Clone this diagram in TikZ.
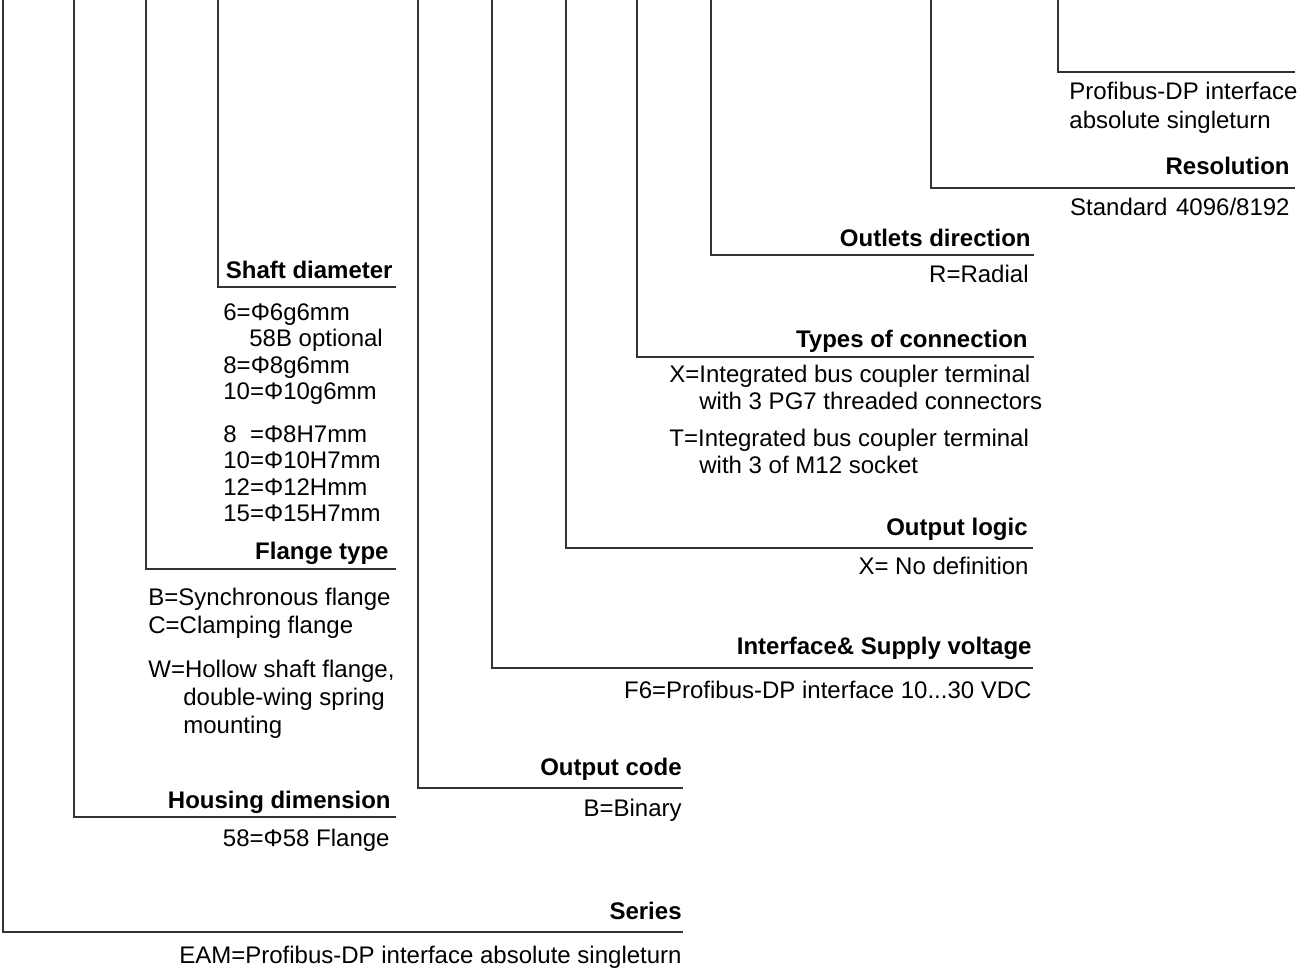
\documentclass[tikz,border=0pt]{standalone}
\usepackage{fontspec}
\setmainfont{Liberation Sans}
\usepackage{tikz}
\usetikzlibrary{positioning}
\tikzset{
  bar/.style={draw=black!80,line width=1pt},
  head/.style={font=\fontsize{12}{13.2}\selectfont\bfseries,inner sep=0pt,text depth=0pt},
  desc/.style={font=\fontsize{12}{13.2}\selectfont,inner sep=0pt,align=left}
}

\begin{document}
\begin{tikzpicture}[x=0.5pt,y=-0.5pt]
\useasboundingbox (0,0) rectangle (1306,974);
% bar ends
\coordinate (ser-t) at (3,0);    \coordinate (ser-e) at (683,932);
\coordinate (hou-t) at (74,0);   \coordinate (hou-e) at (396,817);
\coordinate (fla-t) at (146,0);  \coordinate (fla-e) at (396,569);
\coordinate (sha-t) at (218,0);  \coordinate (sha-e) at (396,287);
\coordinate (cod-t) at (418,0);  \coordinate (cod-e) at (683,788);
\coordinate (int-t) at (492,0);  \coordinate (int-e) at (1033,668);
\coordinate (log-t) at (566,0);  \coordinate (log-e) at (1033,548);
\coordinate (con-t) at (637,0);  \coordinate (con-e) at (1034,357);
\coordinate (dir-t) at (711,0);  \coordinate (dir-e) at (1034,255);
\coordinate (res-t) at (931,0);  \coordinate (res-e) at (1295,188);
\coordinate (pro-t) at (1058,0); \coordinate (pro-e) at (1295,72);
\draw[bar] (ser-t) |- (ser-e);
\draw[bar] (hou-t) |- (hou-e);
\draw[bar] (fla-t) |- (fla-e);
\draw[bar] (sha-t) |- (sha-e);
\draw[bar] (cod-t) |- (cod-e);
\draw[bar] (int-t) |- (int-e);
\draw[bar] (log-t) |- (log-e);
\draw[bar] (con-t) |- (con-e);
\draw[bar] (dir-t) |- (dir-e);
\draw[bar] (res-t) |- (res-e);
\draw[bar] (pro-t) |- (pro-e);
% headings
\node[head, above left=6pt and 0.5pt of ser-e] (ser-h) {Series};
\node[head, above left=4pt and 2.5pt of hou-e] (hou-h) {Housing dimension};
\node[head, above left=4.5pt and 3.5pt of fla-e] (fla-h) {Flange type};
\node[head, above left=4pt and 1.5pt of sha-e] (sha-h) {Shaft diameter};
\node[head, above left=6pt and 0.5pt of cod-e] (cod-h) {Output code};
\node[head, above left=6.5pt and 0.5pt of int-e] (int-h) {Interface\& Supply voltage};
\node[head, above left=6pt and 2.5pt of log-e] (log-h) {Output logic};
\node[head, above left=4.5pt and 3pt of con-e] (con-h) {Types of connection};
\node[head, above left=4pt and 1.5pt of dir-e] (dir-h) {Outlets direction};
\node[head, above left=6.5pt and 2.5pt of res-e] (res-h) {Resolution};
% values
\node[desc, below left=6.25pt and 0.5pt of ser-e] (ser-d) {\strut EAM=Profibus-DP interface absolute singleturn};
\node[desc, below left=5.25pt and 3pt of hou-e] (hou-d) {\strut 58=Φ58 Flange};
\node[desc, anchor=north west] (fla-d) at (148,587) {\strut B=Synchronous flange\\[0.8pt]
  C=Clamping flange\\[8.8pt]
  W=Hollow shaft flange,\\[0.8pt]
  \hspace*{17.5pt}double-wing spring\\[0.8pt]
  \hspace*{17.5pt}mounting};
\node[desc, anchor=north west] (sha-d) at (223,301.5) {\strut 6=Φ6g6mm\\
  \hspace*{13pt}58B optional\\
  8=Φ8g6mm\\
  10=Φ10g6mm\\[8.3pt]
  8~~=Φ8H7mm\\
  10=Φ10H7mm\\
  12=Φ12Hmm\\
  15=Φ15H7mm};
\node[desc, below left=4.75pt and 0.5pt of cod-e] (cod-d) {\strut B=Binary};
\node[desc, below left=5.75pt and 0.5pt of int-e] (int-d) {\strut F6=Profibus-DP interface 10...30 VDC};
\node[desc, below left=3.75pt and 2pt of log-e] (log-d) {\strut X= No definition};
\node[desc, anchor=north west] (con-d) at (669,364) {\strut X=Integrated bus coupler terminal\\[0.3pt]
  \hspace*{15pt}with 3 PG7 threaded connectors\\[5.3pt]
  T=Integrated bus coupler terminal\\
  \hspace*{15pt}with 3 of M12 socket};
\node[desc, below left=4.25pt and 2.5pt of dir-e] (dir-d) {\strut R=Radial};
\node[desc, below left=4.25pt and 2.5pt of res-e] (res-d) {\strut Standard\hspace{4.3pt}4096/8192};
\node[desc, anchor=north west] (pro-d) at (1069,80.5) {\strut Profibus-DP interface\\[1.3pt]
  absolute singleturn};
\end{tikzpicture}
\end{document}
